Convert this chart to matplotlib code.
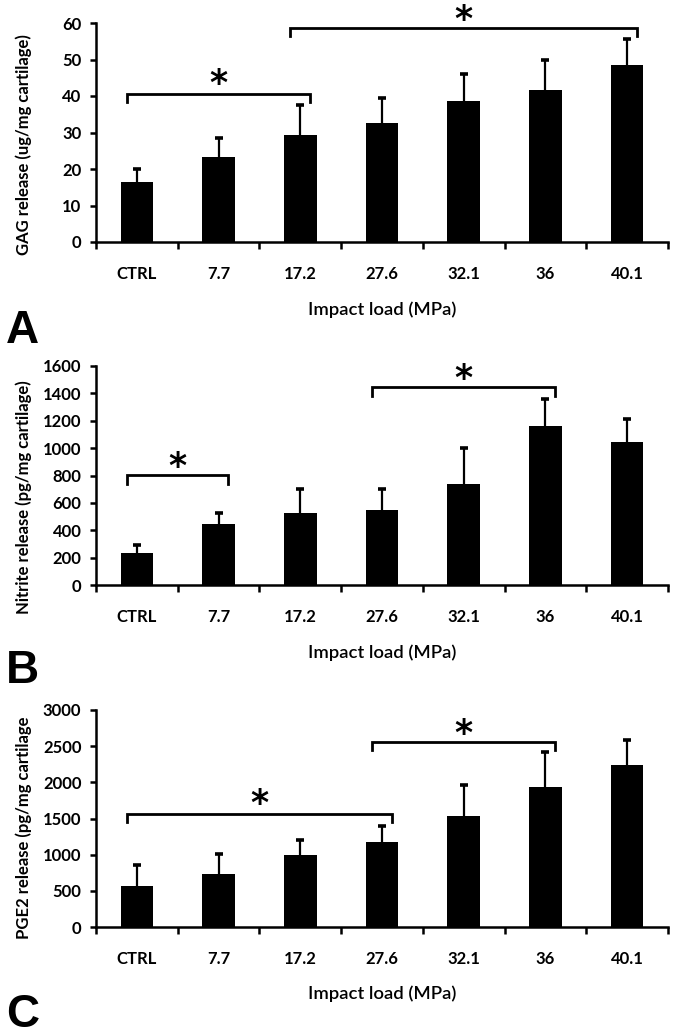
import matplotlib
matplotlib.use('Agg')
import matplotlib.pyplot as plt
import matplotlib.transforms as mtransforms
import numpy as np
from matplotlib.ticker import FixedLocator, NullFormatter, FixedFormatter

categories = ['CTRL', '7.7', '17.2', '27.6', '32.1', '36', '40.1']

gag_mean = [16.5, 23.3, 29.4, 32.6, 38.5, 41.7, 48.4]
gag_err = [3.4, 5.1, 8.0, 6.9, 7.6, 8.2, 7.3]

nitrite_mean = [235, 446, 529, 546, 736, 1164, 1043]
nitrite_err = [60, 83, 175, 158, 268, 195, 170]

pge2_mean = [570, 736, 998, 1178, 1536, 1937, 2240]
pge2_err = [281, 271, 198, 216, 424, 483, 345]

# significance brackets: (from index, to index, bracket level, end level, star level)
gag_sig = [(0, 2, 40.5, 38.4, 45.2), (2, 6, 58.6, 56.4, 62.7)]
nitrite_sig = [(0, 1, 804, 736, 913), (3, 5, 1449, 1384, 1559)]
pge2_sig = [(0, 3, 1560, 1449, 1800), (3, 5, 2553, 2447, 2770)]

gag_ticks = [0, 10, 20, 30, 40, 50, 60]
nitrite_ticks = [0, 200, 400, 600, 800, 1000, 1200, 1400, 1600]
pge2_ticks = [0, 500, 1000, 1500, 2000, 2500, 3000]

plt.rcParams['font.family'] = ['Lato', 'DejaVu Sans']

W, H = 675, 1035
fig = plt.figure(figsize=(W / 100, H / 100), dpi=100)

panels = [
    dict(top=23, bottom=242, mean=gag_mean, err=gag_err, sig=gag_sig, ticks=gag_ticks,
         ylabel='GAG release (ug/mg cartilage)', ylab_y=0.447, letter='A', letter_base=343),
    dict(top=366, bottom=585, mean=nitrite_mean, err=nitrite_err, sig=nitrite_sig, ticks=nitrite_ticks,
         ylabel='Nitrite release (pg/mg cartilage)', ylab_y=0.40, letter='B', letter_base=683),
    dict(top=710, bottom=927, mean=pge2_mean, err=pge2_err, sig=pge2_sig, ticks=pge2_ticks,
         ylabel='PGE2 release (pg/mg cartilage', ylab_y=0.456, letter='C', letter_base=1027),
]

left_px, right_px = 96, 668
lw = 1.8

for p in panels:
    ax = fig.add_axes([left_px / W, 1 - p['bottom'] / H, (right_px - left_px) / W,
                       (p['bottom'] - p['top']) / H])
    x = np.arange(len(categories))
    ax.bar(x, p['mean'], width=0.4, color='black', zorder=2)
    eb = ax.errorbar(x, p['mean'], yerr=[np.zeros(len(x)), p['err']], fmt='none',
                     ecolor='black', elinewidth=1.6, capsize=2.6, capthick=2.6, zorder=3)
    eb[1][0].set_visible(False)  # hide the lower caps (one-sided bars)
    ax.set_xlim(-0.5, len(categories) - 0.5)
    ax.set_ylim(p['ticks'][0], p['ticks'][-1])
    for s in ['top', 'right']:
        ax.spines[s].set_visible(False)
    for s in ['left', 'bottom']:
        ax.spines[s].set_linewidth(lw)
    ax.set_yticks(p['ticks'])
    ax.tick_params(axis='y', direction='out', length=4, width=lw, pad=6.5,
                   labelsize=12)
    for t in ax.get_yticklabels():
        t.set_fontweight('bold')
    ax.xaxis.set_major_locator(FixedLocator(np.arange(len(categories) + 1) - 0.5))
    ax.xaxis.set_major_formatter(NullFormatter())
    ax.xaxis.set_minor_locator(FixedLocator(x))
    ax.xaxis.set_minor_formatter(FixedFormatter(categories))
    ax.tick_params(axis='x', which='major', direction='out', length=5, width=lw)
    ax.tick_params(axis='x', which='minor', length=0, pad=17, labelsize=12)
    for t in ax.xaxis.get_minorticklabels():
        t.set_fontweight('bold')

    ax.set_ylabel(p['ylabel'], fontsize=12, fontweight='bold')
    ax.yaxis.set_label_coords(-0.112, p['ylab_y'])
    ax.set_xlabel('Impact load (MPa)', fontsize=13.3, fontweight='semibold')
    ax.xaxis.set_label_coords(0.5, -0.27)

    star_tr = mtransforms.offset_copy(ax.transData, fig=fig, x=0, y=-7, units='dots')
    for (i, j, lev, end, star) in p['sig']:
        xl, xr = i - 0.12, j + 0.12
        ax.plot([xl, xl, xr, xr], [end, lev, lev, end], color='black', lw=2.0,
                solid_joinstyle='miter', clip_on=False, zorder=4)
        ax.text((xl + xr) / 2, star, '*', ha='center', va='center', fontsize=25,
                fontweight='bold', clip_on=False, family='DejaVu Sans',
                transform=star_tr)

    fig.text(6 / W, 1 - p['letter_base'] / H, p['letter'], ha='left', va='baseline',
             fontsize=33, fontweight='bold', family='Liberation Sans')

fig.savefig('out.png', dpi=100)
